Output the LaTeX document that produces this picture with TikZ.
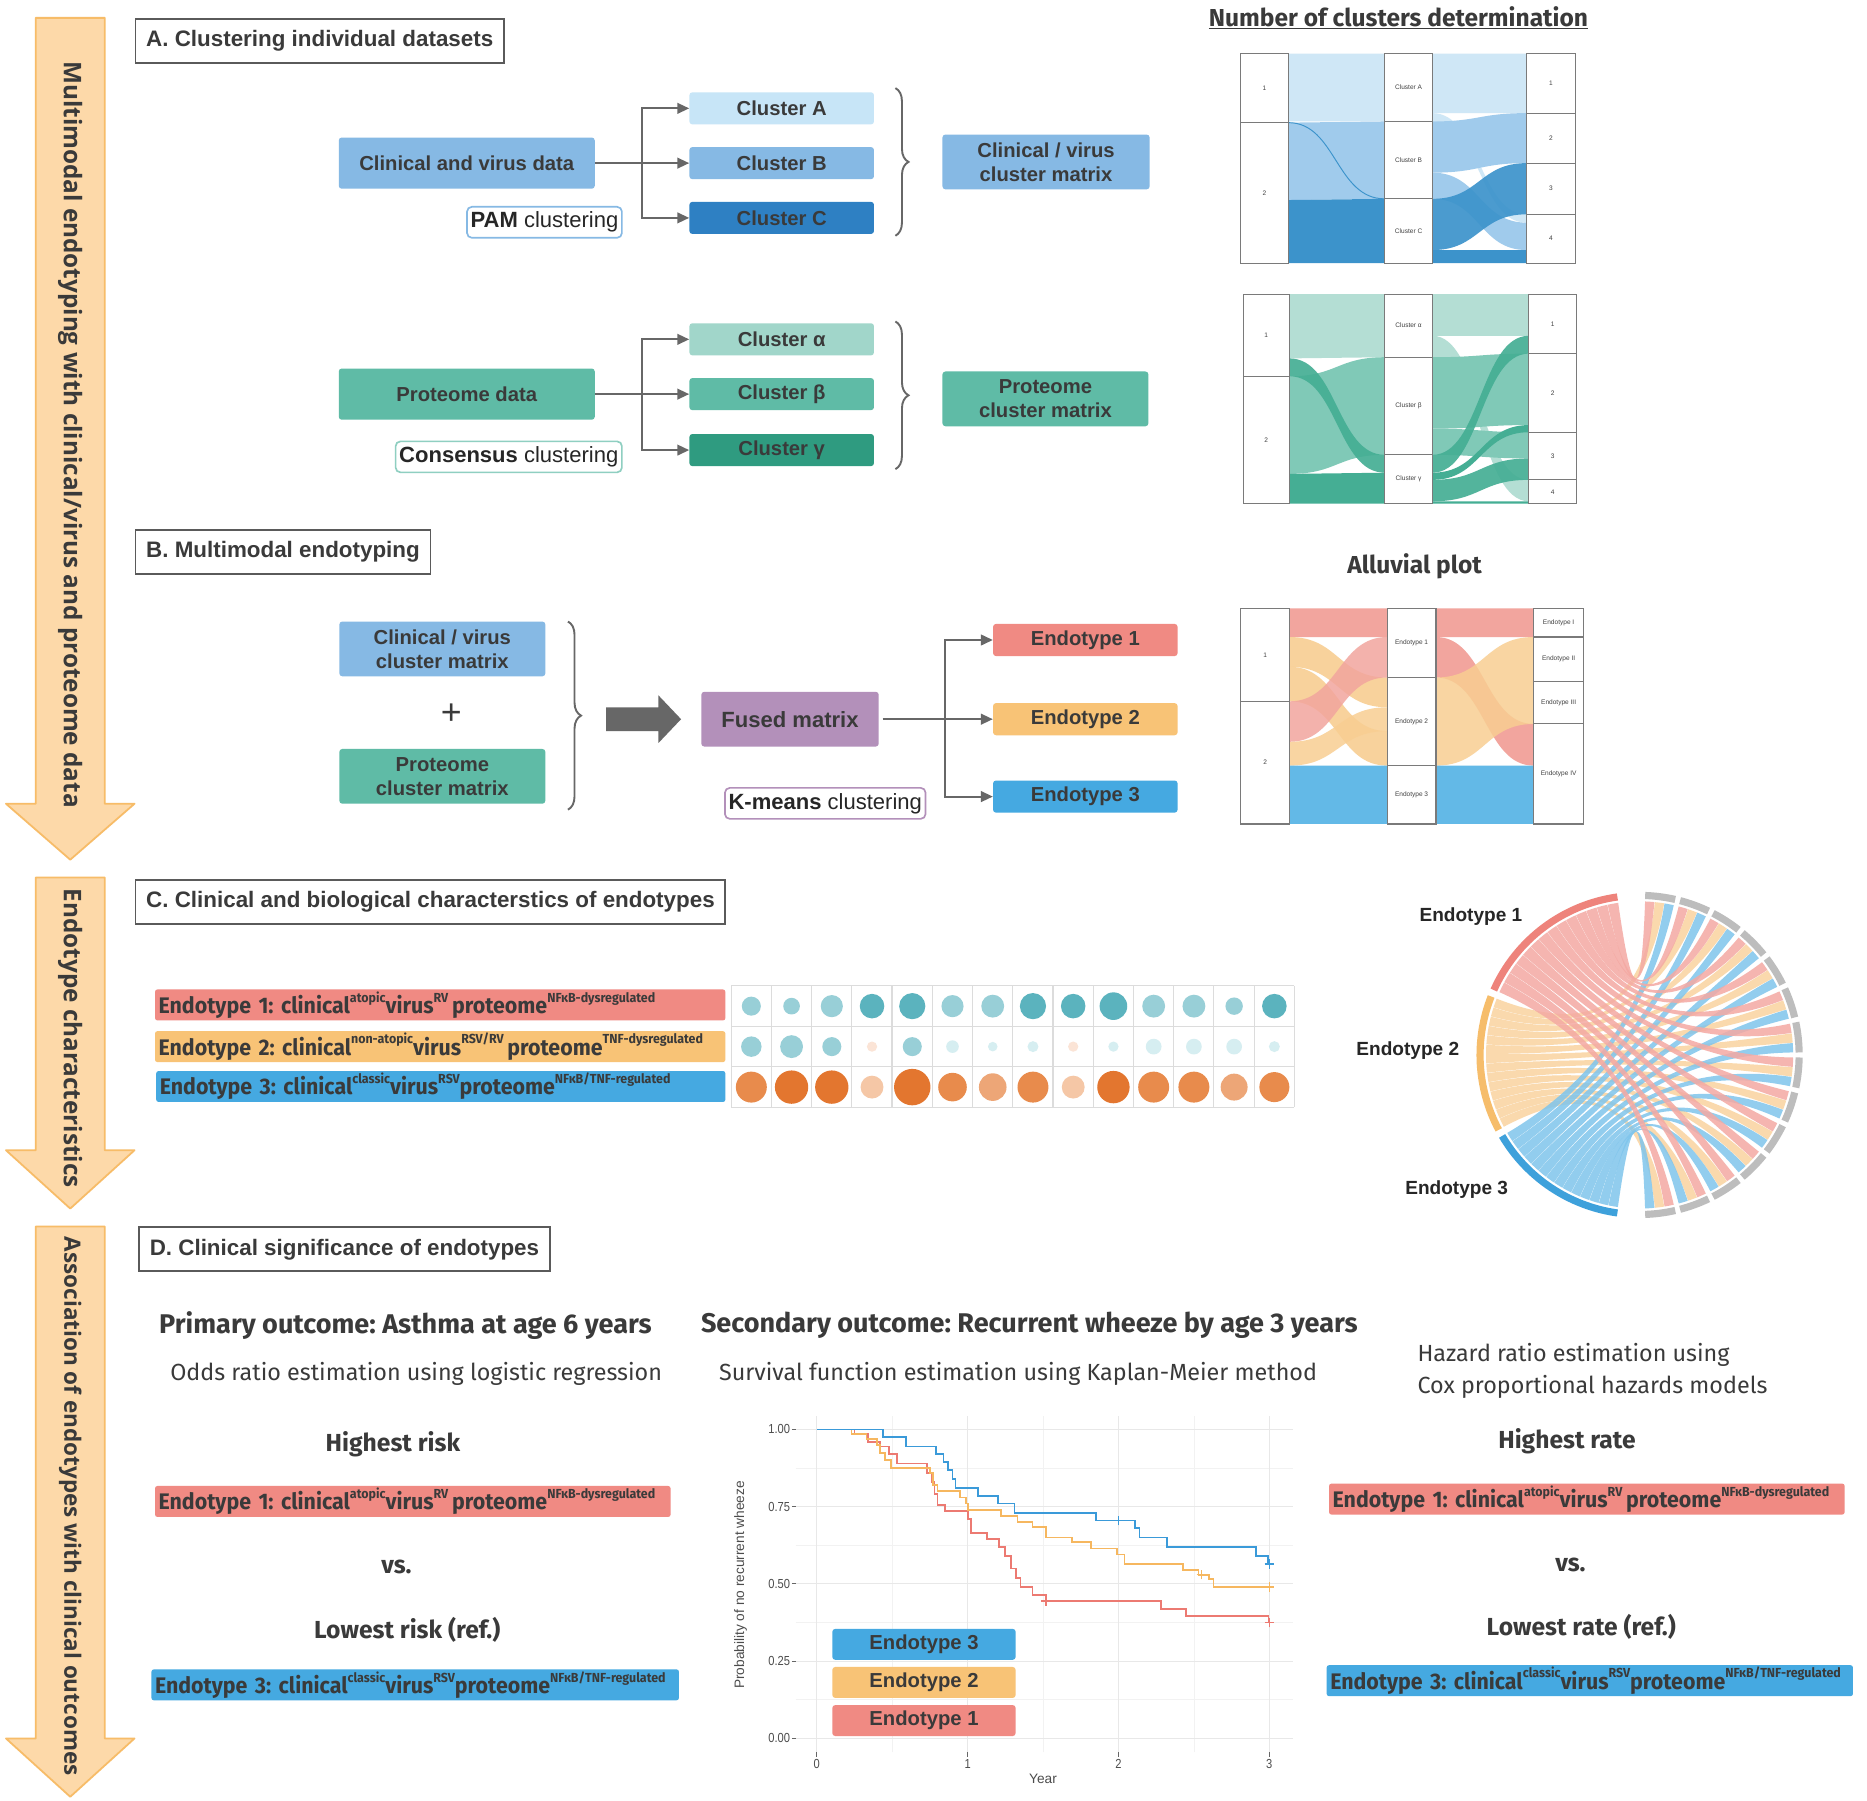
\documentclass[tikz,border=0pt]{standalone}
\usepackage{fontspec}
\setmainfont{Liberation Sans}
\newfontfamily\srcfont{Fira Sans}
\newfontfamily\labfont[FakeStretch=0.95]{Fira Sans}
\newfontfamily\bandfont{Open Sans}
\newfontfamily\narrowfont[FakeStretch=0.85]{Liberation Sans}
\usepackage{tikz}
\usetikzlibrary{positioning,arrows.meta,decorations.pathreplacing}
\frenchspacing

\definecolor{txtc}{HTML}{3A3A3A}
\definecolor{bandfill}{HTML}{FDD9A9}
\definecolor{banddraw}{HTML}{F7BC68}
\definecolor{framec}{HTML}{5A5A5A}
\definecolor{linec}{HTML}{676767}
\definecolor{cvblue}{HTML}{86B9E4}
\definecolor{clAc}{HTML}{C7E5F7}
\definecolor{clCc}{HTML}{2E80C3}
\definecolor{prteal}{HTML}{5FBBA6}
\definecolor{clAlc}{HTML}{A1D6CA}
\definecolor{clGac}{HTML}{2F9B80}
\definecolor{fusedc}{HTML}{B390BA}
\definecolor{endoA}{HTML}{F08A83}
\definecolor{endoB}{HTML}{F8C376}
\definecolor{endoC}{HTML}{45A9E1}
\definecolor{stratc}{HTML}{7A7A7A}
\definecolor{abl}{HTML}{CFE7F6}
\definecolor{abm}{HTML}{A0CBEC}
\definecolor{abd}{HTML}{3C93CB}
\definecolor{atl}{HTML}{B4DED4}
\definecolor{atm}{HTML}{80C9B7}
\definecolor{atd}{HTML}{45AE94}
\definecolor{ared}{HTML}{F2A59E}
\definecolor{aora}{HTML}{F8CE92}
\definecolor{ablu}{HTML}{63B9E7}
\definecolor{cellc}{HTML}{DCDCDC}
\definecolor{tdark}{HTML}{5BB3BE}
\definecolor{tlight}{HTML}{98CFD7}
\definecolor{tpale}{HTML}{D6EEF1}
\definecolor{peach}{HTML}{FBE4D6}
\definecolor{odark}{HTML}{E3762F}
\definecolor{omid}{HTML}{E88B4C}
\definecolor{olite}{HTML}{EDA677}
\definecolor{opale}{HTML}{F5C7A6}
\definecolor{chred}{HTML}{F4A9A3}
\definecolor{chora}{HTML}{FAD39F}
\definecolor{chblu}{HTML}{7FC5EC}
\definecolor{trred}{HTML}{EE837B}
\definecolor{trora}{HTML}{F6BD6B}
\definecolor{trblu}{HTML}{3EA1DB}
\definecolor{trgray}{HTML}{BDBDBD}
\definecolor{kmblue}{HTML}{3A9AD9}
\definecolor{kmora}{HTML}{F6B75F}
\definecolor{kmred}{HTML}{EC7A72}

\newcommand{\sups}[1]{\raisebox{0.5em}{\fontsize{11}{11}\selectfont #1}}
\newcommand{\labone}{Endotype 1: clinical\sups{atopic}virus\sups{RV}\,proteome\sups{NFκB-dysregulated}}
\newcommand{\labtwo}{Endotype 2: clinical\sups{non-atopic}virus\sups{RSV/RV}\,proteome\sups{TNF-dysregulated}}
\newcommand{\labthree}{Endotype 3: clinical\sups{classic}virus\sups{RSV}proteome\sups{NFκB/TNF-regulated}}
% alluvial band between two strata
\newcommand{\flow}[7]{\fill[#7] (#1,#2) .. controls ({(#1+#4)/2},#2) and ({(#1+#4)/2},#5) .. (#4,#5) -- (#4,#6) .. controls ({(#1+#4)/2},#6) and ({(#1+#4)/2},#3) .. (#1,#3) -- cycle;}
\newcommand{\strat}[6]{\node[strat, minimum width={(#3-#2)*1pt}, minimum height={(#5-#4)*1pt}] (#1) at ({(#2+#3)/2},{(#4+#5)/2}) {#6};}
\newcommand{\band}[3]{\filldraw[bandst] (30,#1) -- (88,#1) -- (88,#2) -- (113,#2) -- (59,#3) -- (5,#2) -- (30,#2) -- cycle;}
\newcommand{\cens}[3]{\draw[#1, line width=1.2pt] (#2,#3) ++(-4pt,0pt) -- ++(8pt,0pt) (#2,#3) ++(0pt,-4pt) -- ++(0pt,8pt);}
% chord between an endotype arc and a variable arc (quadratic through the centre)
\newcommand{\ribbon}[5]{\fill[#1, fill opacity=0.85] (#2:129) arc[start angle=#2, end angle=#3, radius=129] .. controls (#3:43) and (#4:43) .. (#4:129) arc[start angle=#4, end angle=#5, radius=129] .. controls (#5:43) and (#2:43) .. (#2:129) -- cycle;}

\begin{document}
\begin{tikzpicture}[x=1pt, y=-1pt,
  box/.style={rounded corners=2.5pt, align=center, text=txtc, font=\fontsize{17}{20}\selectfont\bfseries, inner sep=0pt},
  titlebox/.style={draw=framec, line width=1.6pt, fill=white, text=txtc, font=\fontsize{18.8}{18.8}\selectfont\bfseries, minimum height=37pt, inner xsep=9pt, anchor=north west},
  methbox/.style={draw=#1, fill=white, rounded corners=4pt, line width=1.4pt, text=black!85, font=\fontsize{18.5}{18.5}\selectfont, inner xsep=3pt, inner ysep=0pt, minimum height=26pt, anchor=north east},
  arr/.style={-{Triangle[length=10pt, width=9pt]}, draw=linec, line width=1.6pt},
  conn/.style={draw=linec, line width=1.6pt},
  bracest/.style={decorate, decoration={brace, amplitude=11pt}, draw=linec, line width=1.6pt},
  bandst/.style={fill=bandfill, draw=banddraw, line width=1.5pt, line join=round},
  bandtxt/.style={rotate=-90, text=txtc, font=\bandfont\bfseries\fontsize{20.4}{20.4}\selectfont},
  strat/.style={draw=stratc, fill=white, line width=0.9pt, inner sep=0pt, text=black!75, font=\fontsize{5.5}{5.5}\selectfont},
  ebar/.style={rounded corners=2pt, anchor=west, minimum height=26pt, inner xsep=3pt, inner ysep=0pt, align=left, text=txtc, font=\labfont\bfseries\fontsize{18.9}{18.9}\selectfont},
  headtxt/.style={text=txtc, font=\srcfont\bfseries\fontsize{22.7}{22.7}\selectfont},
  subtxt/.style={text=txtc, font=\srcfont\bfseries\fontsize{20.7}{20.7}\selectfont},
  plaintxt/.style={text=txtc, font=\srcfont\fontsize{19.6}{27}\selectfont},
  ktick/.style={text=black!70, font=\narrowfont\fontsize{11}{11}\selectfont, inner sep=1pt},
  kmline/.style={line width=1.5pt},
  gmaj/.style={draw=black!9, line width=0.9pt},
  gmin/.style={draw=black!5, line width=0.6pt}]
\useasboundingbox (0,0) rectangle (1568,1512);
\fill[white] (0,0) rectangle (1568,1512);

% left bands
\band{15}{675}{722}
\node[bandtxt] (bandA) at (59,365) {Multimodal endotyping with clinical/virus and proteome data};
\band{737}{966}{1015}
\node[bandtxt] (bandC) at (59,872) {Endotype characteristics};
\band{1030}{1460}{1509}
\node[bandtxt, font=\bandfont\bfseries\fontsize{18.9}{18.9}\selectfont] (bandD) at (59,1265) {Association of endotypes with clinical outcomes};

% A. clustering
\node[titlebox] (titleA) at (113,15) {A. Clustering individual datasets};
\node[box, fill=cvblue, minimum width=215pt, minimum height=43pt] (cvdata) at (392,137) {Clinical and virus data};
\node[methbox=cvblue] (pam) at (523,173) {\textbf{PAM} clustering};
\node[box, fill=clAc, minimum width=155pt, minimum height=27pt] (clA) at (656.5,91) {Cluster A};
\node[box, fill=cvblue, minimum width=155pt, minimum height=27pt] (clB) at (656.5,137) {Cluster B};
\node[box, fill=clCc, minimum width=155pt, minimum height=27pt] (clC) at (656.5,183) {Cluster C};
\coordinate (jA) at (539,137);
\draw[conn] (cvdata.east) -- (jA);
\draw[arr] (jA) |- (clA.west);
\draw[arr] (jA) -- (clB.west);
\draw[arr] (jA) |- (clC.west);
\draw[bracest] (752,74) -- (752,198);
\node[box, fill=cvblue, minimum width=174pt, minimum height=46pt] (cvmat) at (878.5,136) {Clinical / virus\\cluster matrix};

\node[box, fill=prteal, minimum width=215pt, minimum height=43pt] (prdata) at (392,331) {Proteome data};
\node[methbox=prteal!70] (cons) at (523,370) {\textbf{Consensus} clustering};
\node[box, fill=clAlc, minimum width=155pt, minimum height=27pt] (clAl) at (656.5,285) {Cluster α};
\node[box, fill=prteal, minimum width=155pt, minimum height=27pt] (clBe) at (656.5,331) {Cluster β};
\node[box, fill=clGac, minimum width=155pt, minimum height=27pt] (clGa) at (656.5,378) {Cluster γ};
\coordinate (jP) at (539,331);
\draw[conn] (prdata.east) -- (jP);
\draw[arr] (jP) |- (clAl.west);
\draw[arr] (jP) -- (clBe.west);
\draw[arr] (jP) |- (clGa.west);
\draw[bracest] (752,270) -- (752,394);
\node[box, fill=prteal, minimum width=173pt, minimum height=46pt] (prmat) at (878,335) {Proteome\\cluster matrix};

% number of clusters
\node[headtxt, font=\srcfont\bfseries\fontsize{20.6}{20.6}\selectfont] (ncd) at (1174.5,15) {\underline{Number of clusters determination}};
\flow{1082}{45}{102}{1163}{45}{102}{abl}
\flow{1082}{103}{168}{1163}{102}{167}{abm}
\flow{1082}{168}{221}{1163}{167}{221}{abd}
\draw[abd, line width=0.8pt] (1082,103) .. controls (1122,103) and (1122,167) .. (1163,167);
\flow{1203}{45}{95}{1282}{45}{95}{abl}
\flow{1203}{95}{102}{1282}{180}{187}{abl}
\flow{1203}{102}{145}{1282}{95}{137}{abm}
\flow{1203}{145}{167}{1282}{187}{210}{abm}
\flow{1203}{167}{210}{1282}{137}{180}{abd, opacity=0.92}
\flow{1203}{210}{221}{1282}{210}{221}{abd}
\strat{pAl1}{1042}{1082}{45}{103}{1}
\strat{pAl2}{1042}{1082}{103}{221}{2}
\strat{pAcA}{1163}{1203}{45}{102}{Cluster A}
\strat{pAcB}{1163}{1203}{102}{167}{Cluster B}
\strat{pAcC}{1163}{1203}{167}{221}{Cluster C}
\strat{pAr1}{1282}{1323}{45}{95}{1}
\strat{pAr2}{1282}{1323}{95}{137}{2}
\strat{pAr3}{1282}{1323}{137}{180}{3}
\strat{pAr4}{1282}{1323}{180}{221}{4}

\flow{1083}{247}{301}{1163}{247}{300}{atl}
\flow{1083}{316}{398}{1163}{300}{382}{atm}
\flow{1083}{301}{316}{1163}{382}{397}{atd, opacity=0.92}
\flow{1083}{398}{423}{1163}{397}{423}{atd}
\flow{1203}{247}{282}{1284}{247}{282}{atl}
\flow{1203}{282}{300}{1284}{403}{421}{atl}
\flow{1203}{300}{360}{1284}{297}{357}{atm}
\flow{1203}{360}{382}{1284}{363}{385}{atm}
\flow{1203}{382}{397}{1284}{282}{297}{atd, opacity=0.92}
\flow{1203}{397}{403}{1284}{357}{363}{atd}
\flow{1203}{403}{421}{1284}{385}{403}{atd, opacity=0.92}
\flow{1203}{421}{423}{1284}{421}{423}{atd}
\strat{pBl1}{1044}{1083}{247}{316}{1}
\strat{pBl2}{1044}{1083}{316}{423}{2}
\strat{pBca}{1163}{1203}{247}{300}{Cluster α}
\strat{pBcb}{1163}{1203}{300}{382}{Cluster β}
\strat{pBcg}{1163}{1203}{382}{423}{Cluster γ}
\strat{pBr1}{1284}{1324}{247}{297}{1}
\strat{pBr2}{1284}{1324}{297}{363}{2}
\strat{pBr3}{1284}{1324}{363}{403}{3}
\strat{pBr4}{1284}{1324}{403}{423}{4}

% B. multimodal endotyping
\node[titlebox] (titleB) at (113,444) {B. Multimodal endotyping};
\node[box, fill=cvblue, minimum width=173pt, minimum height=46pt] (cvmatB) at (371.5,545) {Clinical / virus\\cluster matrix};
\node[text=txtc, font=\fontsize{30}{30}\selectfont] (plus) at (379,600) {+};
\node[box, fill=prteal, minimum width=173pt, minimum height=46pt] (prmatB) at (371.5,652) {Proteome\\cluster matrix};
\draw[bracest] (477,522) -- (477,680);
\fill[linec] (509,594) -- (553,594) -- (553,584) -- (572,604) -- (553,624) -- (553,614) -- (509,614) -- cycle;
\node[box, fill=fusedc, minimum width=149pt, minimum height=46pt, font=\fontsize{18.5}{18.5}\selectfont\bfseries] (fused) at (663.5,604) {Fused matrix};
\node[methbox=fusedc] (kmeans) at (778,661) {\textbf{K-means} clustering};
\node[box, fill=endoA, minimum width=155pt, minimum height=27pt] (endo1) at (911.5,537.5) {Endotype 1};
\node[box, fill=endoB, minimum width=155pt, minimum height=27pt] (endo2) at (911.5,604) {Endotype 2};
\node[box, fill=endoC, minimum width=155pt, minimum height=27pt] (endo3) at (911.5,669) {Endotype 3};
\coordinate (jB) at (794,604);
\draw[conn] (fused.east) ++(3pt,0) -- (jB);
\draw[arr] (jB) |- (endo1.west);
\draw[arr] (jB) -- (endo2.west);
\draw[arr] (jB) |- (endo3.west);

\node[headtxt, font=\srcfont\bfseries\fontsize{20.6}{20.6}\selectfont] (alt) at (1188,476) {Alluvial plot};
\flow{1083}{511}{535}{1165}{511}{535}{ared}
\flow{1083}{535}{560}{1165}{569}{594}{aora, opacity=0.9}
\flow{1083}{560}{589}{1165}{614}{643}{aora, opacity=0.9}
\flow{1083}{589}{623}{1165}{535}{569}{ared, opacity=0.85}
\flow{1083}{623}{643}{1165}{594}{614}{aora, opacity=0.85}
\flow{1083}{643}{692}{1165}{643}{692}{ablu}
\flow{1206}{511}{535}{1288}{511}{535}{ared}
\flow{1206}{535}{569}{1288}{608}{643}{ared}
\flow{1206}{569}{643}{1288}{535}{608}{aora, opacity=0.85}
\flow{1206}{643}{692}{1288}{643}{692}{ablu}
\strat{pCl1}{1042}{1083}{511}{589}{1}
\strat{pCl2}{1042}{1083}{589}{692}{2}
\strat{pCe1}{1165}{1206}{511}{569}{Endotype 1}
\strat{pCe2}{1165}{1206}{569}{643}{Endotype 2}
\strat{pCe3}{1165}{1206}{643}{692}{Endotype 3}
\strat{pCr1}{1288}{1330}{511}{535}{Endotype I}
\strat{pCr2}{1288}{1330}{535}{572}{Endotype II}
\strat{pCr3}{1288}{1330}{572}{608}{Endotype III}
\strat{pCr4}{1288}{1330}{608}{692}{Endotype IV}

% C. characteristics
\node[titlebox] (titleC) at (113,738) {C. Clinical and biological characterstics of endotypes};
\node[ebar, fill=endoA, text width=473pt] (cE1) at (130,844) {\labone};
\node[ebar, fill=endoB, text width=473pt] (cE2) at (130,879) {\labtwo};
\node[ebar, fill=endoC, text width=472pt] (cE3) at (131,912.5) {\labthree};
\foreach \ci in {0,...,14} \draw[cellc, line width=0.9pt] ({614+33.79*\ci},828) -- ({614+33.79*\ci},930);
\foreach \yy in {828,862,896,930} \draw[cellc, line width=0.9pt] (614,\yy) -- (1087,\yy);
\foreach \r/\cl [count=\ci from 0] in {8/tlight,7/tlight,9.3/tlight,10.3/tdark,11/tdark,9.3/tlight,9.6/tlight,11/tdark,10.3/tdark,11.6/tdark,9.6/tlight,9.6/tlight,7.3/tlight,10.3/tdark}
  \fill[\cl] ({631+33.79*\ci},845) circle[radius=\r];
\foreach \r/\cl [count=\ci from 0] in {8.6/tlight,9.6/tlight,8/tlight,4.3/peach,8/tlight,5.3/tpale,4/tpale,4.6/tpale,4.3/peach,4.3/tpale,6.6/tpale,6.6/tpale,6.6/tpale,4.6/tpale}
  \fill[\cl] ({631+33.79*\ci},879) circle[radius=\r];
\foreach \r/\cl [count=\ci from 0] in {13/omid,14/odark,14/odark,9.6/opale,15.3/odark,12/omid,11.6/olite,13/omid,9.6/opale,13.6/odark,13/omid,13/omid,11.3/olite,12.6/omid}
  \fill[\cl] ({631+33.79*\ci},913) circle[radius=\r];

% chord diagram
\begin{scope}[shift={(1377,886)}, x=1pt, y=1pt]
  \draw[trred, line width=6pt] (98:134) arc[start angle=98, end angle=156, radius=134];
  \draw[trora, line width=6pt] (158.5:134) arc[start angle=158.5, end angle=208, radius=134];
  \draw[trblu, line width=6pt] (210.5:134) arc[start angle=210.5, end angle=262, radius=134];
  \foreach \cj in {0,...,13}{
    \pgfmathsetmacro{\angA}{77.1-12.7*\cj}
    \pgfmathsetmacro{\angB}{\angA+10.9}
    \draw[trgray, line width=6pt] (\angA:134) arc[start angle=\angA, end angle=\angB, radius=134];
  }
  \foreach \cj in {0,...,13}{
    \pgfmathsetmacro{\angA}{158.5+3.536*\cj}
    \pgfmathsetmacro{\angB}{\angA+3.4}
    \pgfmathsetmacro{\angC}{80.8-12.7*\cj}
    \pgfmathsetmacro{\angD}{\angC+3.5}
    \ribbon{chora}{\angA}{\angB}{\angC}{\angD}
  }
  \foreach \cj in {0,...,13}{
    \pgfmathsetmacro{\angA}{210.5+3.679*\cj}
    \pgfmathsetmacro{\angB}{\angA+3.55}
    \pgfmathsetmacro{\angC}{77.15-12.7*\cj}
    \pgfmathsetmacro{\angD}{\angC+3.5}
    \ribbon{chblu}{\angA}{\angB}{\angC}{\angD}
  }
  \foreach \cj in {0,...,13}{
    \pgfmathsetmacro{\angA}{98+4.143*\cj}
    \pgfmathsetmacro{\angB}{\angA+4.0}
    \pgfmathsetmacro{\angC}{84.45-12.7*\cj}
    \pgfmathsetmacro{\angD}{\angC+3.5}
    \ribbon{chred}{\angA}{\angB}{\angC}{\angD}
  }
\end{scope}
\node[text=black!85, font=\fontsize{16}{16}\selectfont\bfseries, anchor=east] (chE1) at (1282,770) {Endotype 1};
\node[text=black!85, font=\fontsize{16}{16}\selectfont\bfseries, anchor=east] (chE2) at (1229,882) {Endotype 2};
\node[text=black!85, font=\fontsize{16}{16}\selectfont\bfseries, anchor=east] (chE3) at (1270,999) {Endotype 3};

% D. clinical significance
\node[titlebox] (titleD) at (116,1030) {D. Clinical significance of endotypes};
\node[headtxt] (prim) at (340.5,1113) {Primary outcome: Asthma at age 6 years};
\node[plaintxt] (odds) at (349.5,1154) {Odds ratio estimation using logistic regression};
\node[subtxt] (hiRisk) at (330,1213) {Highest risk};
\node[ebar, fill=endoA, text width=427pt] (dE1) at (130,1261) {\labone};
\node[subtxt] (vsL) at (333,1316) {vs.};
\node[subtxt] (loRisk) at (342,1369) {Lowest risk (ref.)};
\node[ebar, fill=endoC, text width=437pt] (dE3) at (127,1415) {\labthree};

\node[headtxt] (sec) at (864.5,1113) {Secondary outcome: Recurrent wheeze by age 3 years};
\node[plaintxt] (surv) at (855,1154) {Survival function estimation using Kaplan-Meier method};
\begin{scope}[shift={(686,1460)}, x=126.67pt, y=259.5pt]
  \foreach \yr in {0.5,1.5,2.5} \draw[gmin] (\yr,-0.045) -- (\yr,1.045);
  \foreach \sv in {0.125,0.375,0.625,0.875} \draw[gmin] (-0.14,\sv) -- (3.16,\sv);
  \foreach \yr in {0,1,2,3} \draw[gmaj] (\yr,-0.045) -- (\yr,1.045);
  \foreach \sv in {0,0.25,0.5,0.75,1} \draw[gmaj] (-0.14,\sv) -- (3.16,\sv);
  \foreach \sv/\lab [count=\ck] in {0/0.00,0.25/0.25,0.5/0.50,0.75/0.75,1/1.00}{
    \draw[black!60, line width=0.8pt] (-0.165,\sv) -- (-0.14,\sv);
    \node[ktick, anchor=east] (ytk\ck) at (-0.168,\sv) {\lab};
  }
  \foreach \yr in {0,1,2,3}{
    \draw[black!60, line width=0.8pt] (\yr,-0.045) -- (\yr,-0.06);
    \node[ktick, anchor=north] (xtk\yr) at (\yr,-0.062) {\yr};
  }
  \node[ktick, font=\fontsize{11.5}{11.5}\selectfont] (kmx) at (1.5,-0.132) {Year};
  \node[ktick, rotate=90, font=\fontsize{11.5}{11.5}\selectfont] (kmy) at (-0.505,0.497) {Probability of no recurrent wheeze};
  \draw[kmline, kmred] (0,1) -| (0.25,0.985) -| (0.34,0.96) -| (0.42,0.945) -| (0.48,0.92) -| (0.53,0.89) -| (0.73,0.86) -| (0.76,0.83) -| (0.78,0.79) -| (0.80,0.755) -| (0.85,0.735) -| (1.0,0.71) -| (1.02,0.665) -| (1.13,0.645) -| (1.21,0.62) -| (1.25,0.59) -| (1.29,0.55) -| (1.32,0.52) -| (1.35,0.49) -| (1.43,0.465) -| (1.52,0.445) -| (2.28,0.42) -| (2.45,0.395) -| (2.995,0.375) -- (3,0.375);
  \draw[kmline, kmora] (0,1) -| (0.23,0.985) -| (0.33,0.97) -| (0.40,0.95) -| (0.42,0.925) -| (0.45,0.90) -| (0.49,0.875) -| (0.75,0.86) -| (0.77,0.82) -| (0.80,0.80) -| (0.95,0.78) -| (0.99,0.76) -| (1.0,0.74) -| (1.22,0.72) -| (1.33,0.70) -| (1.43,0.685) -| (1.52,0.65) -| (1.69,0.635) -| (1.82,0.615) -| (1.99,0.595) -| (2.04,0.565) -| (2.43,0.545) -| (2.53,0.53) -| (2.60,0.515) -| (2.63,0.49) -- (3,0.49);
  \draw[kmline, kmblue] (0,1) -| (0.44,0.975) -| (0.59,0.945) -| (0.79,0.92) -| (0.84,0.895) -| (0.87,0.87) -| (0.90,0.84) -| (0.92,0.81) -| (1.07,0.785) -| (1.20,0.76) -| (1.31,0.73) -| (1.85,0.705) -| (2.11,0.68) -| (2.14,0.65) -| (2.32,0.62) -| (2.91,0.59) -| (2.99,0.565) -- (3,0.565);
  \cens{kmred}{1.52}{0.445}
  \cens{kmred}{3}{0.375}
  \cens{kmora}{2.55}{0.53}
  \cens{kmora}{3}{0.49}
  \cens{kmblue}{2}{0.705}
  \cens{kmblue}{3}{0.565}
\end{scope}
\node[box, fill=endoC, minimum width=154pt, minimum height=26pt] (lg3) at (776,1381) {Endotype 3};
\node[box, fill=endoB, minimum width=154pt, minimum height=26pt] (lg2) at (776,1413) {Endotype 2};
\node[box, fill=endoA, minimum width=154pt, minimum height=26pt] (lg1) at (776,1445) {Endotype 1};

\node[plaintxt, align=left, anchor=west] (haz) at (1187,1151) {Hazard ratio estimation using\\Cox proportional hazards models};
\node[subtxt] (hiRate) at (1316,1210) {Highest rate};
\node[ebar, fill=endoA, text width=427pt] (rE1) at (1116,1259) {\labone};
\node[subtxt] (vsR) at (1319,1314) {vs.};
\node[subtxt] (loRate) at (1328,1366) {Lowest rate (ref.)};
\node[ebar, fill=endoC, text width=436pt] (rE3) at (1114,1411.5) {\labthree};
\end{tikzpicture}
\end{document}
